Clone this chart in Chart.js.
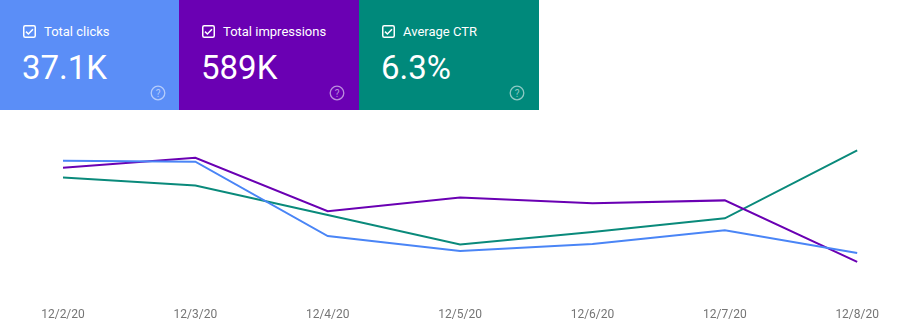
<!DOCTYPE html>
<html lang="en">
<head>
    <meta charset="UTF-8">
    <script src="https://cdn.jsdelivr.net/npm/chart.js@4.4.1/dist/chart.umd.min.js"></script>
    <title>Performance</title>
    <style>
        body { margin: 0; width: 898px; height: 333px; background: #fff; font-family: Roboto, sans-serif; overflow: hidden; position: relative; }
        .card { position: absolute; top: 0; height: 110px; color: #fff; }
        .card .label { position: absolute; left: 23px; top: 24px; font-size: 13px; display: flex; align-items: center; }
        .card .label svg { margin-right: 8px; }
        .card .value { position: absolute; left: 22px; top: 48px; font-size: 33px; line-height: 40px; }
        .card .help { position: absolute; left: 150px; top: 85px; }
        #wrap { position: absolute; left: 0; top: 110px; width: 898px; height: 231px; }
    </style>
</head>
<body>
    <div class="card" style="left:0;width:179px;background:#5b8ef7">
        <div class="label"><svg width="13" height="13" viewBox="0 0 13 13"><rect x="0.75" y="0.75" width="11.5" height="11.5" rx="1.5" fill="none" stroke="#fff" stroke-width="1.5"/><path d="M3 6.6 L5.4 9 L10 4.2" fill="none" stroke="#fff" stroke-width="1.5"/></svg>Total clicks</div>
        <div class="value">37.1K</div>
        <svg class="help" width="16" height="16" viewBox="0 0 16 16"><circle cx="8" cy="8" r="6.8" fill="none" stroke="rgba(255,255,255,0.55)" stroke-width="1.3"/><text x="8" y="11.6" text-anchor="middle" font-size="10" font-family="Roboto" fill="rgba(255,255,255,0.55)">?</text></svg>
    </div>
    <div class="card" style="left:179px;width:180px;background:#6a00b3">
        <div class="label"><svg width="13" height="13" viewBox="0 0 13 13"><rect x="0.75" y="0.75" width="11.5" height="11.5" rx="1.5" fill="none" stroke="#fff" stroke-width="1.5"/><path d="M3 6.6 L5.4 9 L10 4.2" fill="none" stroke="#fff" stroke-width="1.5"/></svg>Total impressions</div>
        <div class="value">589K</div>
        <svg class="help" width="16" height="16" viewBox="0 0 16 16"><circle cx="8" cy="8" r="6.8" fill="none" stroke="rgba(255,255,255,0.55)" stroke-width="1.3"/><text x="8" y="11.6" text-anchor="middle" font-size="10" font-family="Roboto" fill="rgba(255,255,255,0.55)">?</text></svg>
    </div>
    <div class="card" style="left:359px;width:180px;background:#00897b">
        <div class="label"><svg width="13" height="13" viewBox="0 0 13 13"><rect x="0.75" y="0.75" width="11.5" height="11.5" rx="1.5" fill="none" stroke="#fff" stroke-width="1.5"/><path d="M3 6.6 L5.4 9 L10 4.2" fill="none" stroke="#fff" stroke-width="1.5"/></svg>Average CTR</div>
        <div class="value">6.3%</div>
        <svg class="help" width="16" height="16" viewBox="0 0 16 16"><circle cx="8" cy="8" r="6.8" fill="none" stroke="rgba(255,255,255,0.55)" stroke-width="1.3"/><text x="8" y="11.6" text-anchor="middle" font-size="10" font-family="Roboto" fill="rgba(255,255,255,0.55)">?</text></svg>
    </div>

    <div id="wrap"><canvas id="chart"></canvas></div>

    <script>
        // dates on the x axis
        const days = ['12/2/20', '12/3/20', '12/4/20', '12/5/20', '12/6/20', '12/7/20', '12/8/20'];
        // daily values
        const clicks = [6840, 6800, 3990, 3420, 3690, 4210, 3350];
        const impressions = [90500, 93000, 79500, 83000, 81500, 82250, 66750];
        const ctr = [7.9, 7.55, 6.25, 4.95, 5.5, 6.1, 9.1];

        const ctx = document.getElementById('chart').getContext('2d');
        const hiddenAxis = (min, max) => ({ display: false, min: min, max: max });

        new Chart(ctx, {
            type: 'line',
            data: {
                labels: days,
                datasets: [
                    { label: 'Clicks', data: clicks, yAxisID: 'yClicks', borderColor: '#4a85f6', borderWidth: 2 },
                    { label: 'Impressions', data: impressions, yAxisID: 'yImpr', borderColor: '#6a00b3', borderWidth: 2 },
                    { label: 'CTR', data: ctr, yAxisID: 'yCtr', borderColor: '#0a8a7b', borderWidth: 2 }
                ]
            },
            options: {
                responsive: true,
                maintainAspectRatio: false,
                animation: false,
                layout: { autoPadding: false, padding: { left: 63, right: 35, top: 20, bottom: 0 } },
                elements: { point: { radius: 0 }, line: { tension: 0 } },
                plugins: { legend: { display: false }, tooltip: { enabled: false } },
                scales: {
                    x: {
                        offset: false,
                        grid: { display: false, drawTicks: false },
                        border: { display: false },
                        ticks: { padding: 19, color: '#757575', font: { family: 'Roboto', size: 12 }, maxRotation: 0, autoSkip: false }
                    },
                    yClicks: hiddenAxis(2000, 8000),
                    yImpr: hiddenAxis(60000, 100000),
                    yCtr: hiddenAxis(3, 10)
                }
            }
        });
    </script>
</body>
</html>
